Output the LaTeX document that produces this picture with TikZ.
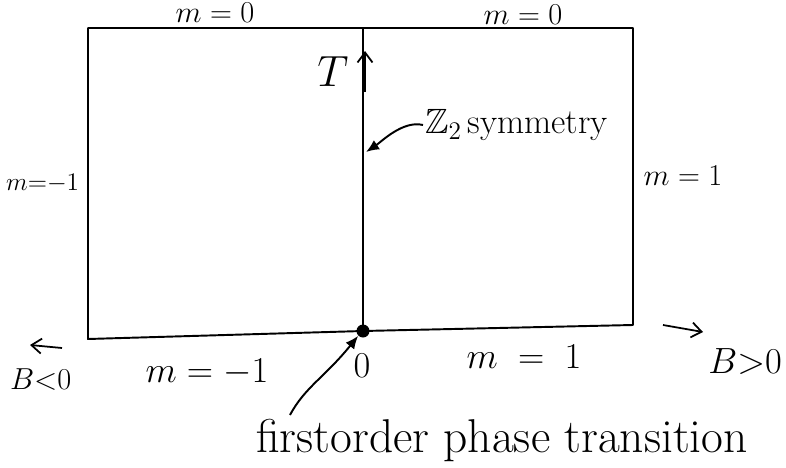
\documentclass[tikz,border=0pt]{standalone}
\usepackage{amsmath,amssymb}
\usepackage{tikz}
\usetikzlibrary{positioning,arrows.meta}

\begin{document}
\begin{tikzpicture}[
  every node/.style={font=\fontsize{17}{19}\selectfont, align=center, inner sep=1pt},
  frame/.style ={draw, line width=1.1pt, line join=round},
  big/.style   ={font=\fontsize{20}{23}\selectfont},
  flow/.style  ={-{Latex[length=2.6mm,width=2.2mm]}, line width=1.1pt},
  hand/.style  ={-{Straight Barb[length=2mm,width=3mm]}, line width=1pt},
]
\useasboundingbox (0,0) rectangle (15.72,9.34);

% corners of the phase diagram
\coordinate (tl)  at (1.76,8.78);
\coordinate (tr)  at (12.66,8.78);
\coordinate (br)  at (12.66,2.84);
\coordinate (bl)  at (1.76,2.56);
\coordinate (top) at (7.26,8.78);
\node[circle, fill, inner sep=0pt, minimum size=2.6mm] (orig) at (7.26,2.72) {};

\draw[frame] (tl) -- (tr) -- (br) -- (orig.center) -- (bl) -- cycle;
\draw[frame] (top) -- (orig.center);

% boundary labels
\node (mtl) at (4.30,9.08)  {$m=0$};
\node (mtr) at (10.46,9.04) {$m=0$};
\node[anchor=west, font=\fontsize{14}{16}\selectfont] (mlf) at (0.08,5.68) {$m{=}{-1}$};
\node (mrt) at (13.66,5.82) {$m=1$};
\node[big] (mbl) at (4.14,1.90)  {$m=-1$};
\node[big] (mbr) at (10.48,2.20) {$m\;=\;1$};
\node[big] (zero) at (7.24,2.02) {$0$};

% temperature axis
\node[font=\fontsize{28}{30}\selectfont] (lblT) at (6.66,7.90) {$T$};
\coordinate (tlo) at (7.30,7.50);
\coordinate (thi) at (7.30,8.32);
\draw[hand] (tlo) -- (thi);

% field directions
\node[anchor=west] (bneg) at (0.16,1.74) {$B{<}0$};
\coordinate (bnegs) at (1.24,2.38);
\coordinate (bnege) at (0.60,2.44);
\draw[hand] (bnegs) -- (bnege);

\node[big, anchor=east] (bpos) at (15.68,2.10) {$B{>}0$};
\coordinate (bposs) at (13.26,2.84);
\coordinate (bpose) at (14.06,2.70);
\draw[hand] (bposs) -- (bpose);

% symmetry line
\node[big, anchor=west] (sym) at (8.46,6.84) {$\mathbb{Z}_2$\,symmetry};
\draw[flow] (sym.west) .. controls +(-0.4,0.1) and +(0.3,0.2) .. (7.32,6.30);

% first order transition
\node[font=\fontsize{27}{29}\selectfont] (fot) at (10.04,0.54) {firstorder phase transition};
\coordinate (fots) at (5.80,1.04);
\draw[flow] (fots) .. controls (6.1,1.6) and (6.5,1.8) .. (orig.south west);

\end{tikzpicture}
\end{document}
